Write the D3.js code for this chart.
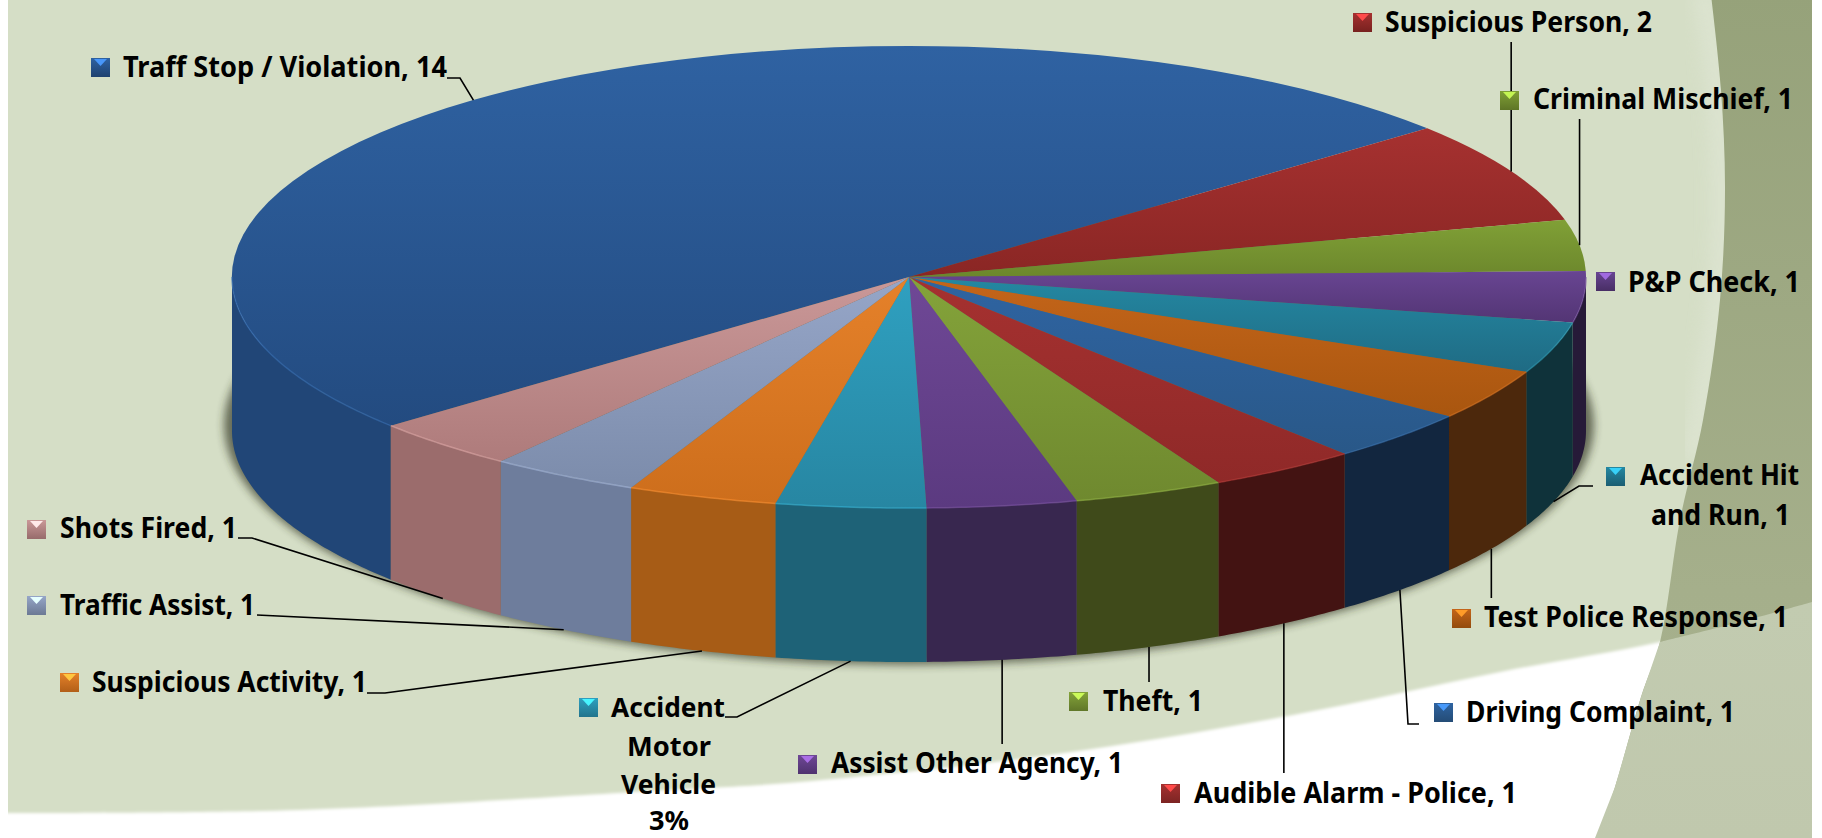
<!DOCTYPE html>
<html>
<head>
<meta charset="utf-8">
<script src="https://cdnjs.cloudflare.com/ajax/libs/d3/7.8.5/d3.min.js"></script>
<style>
html, body { margin: 0; padding: 0; background: #fff; overflow: hidden; }
text { font-family: "Noto Sans", sans-serif; font-weight: 700; fill: #000; }
</style>
</head>
<body>
<div class="chart"></div>
<script>
var categories = ["Traff Stop / Violation", "Suspicious Person", "Criminal Mischief", "P&P Check",
    "Accident Hit and Run", "Test Police Response", "Driving Complaint", "Audible Alarm - Police",
    "Theft", "Assist Other Agency", "Accident Motor Vehicle", "Suspicious Activity",
    "Traffic Assist", "Shots Fired"];
var counts = [14, 2, 1, 1, 1, 1, 1, 1, 1, 1, 1, 1, 1, 1];
var labelLines = [
    ["Traff Stop / Violation, 14"], ["Suspicious Person, 2"], ["Criminal Mischief, 1"], ["P&P Check, 1"],
    ["Accident Hit", "and Run, 1"], ["Test Police Response, 1"], ["Driving Complaint, 1"],
    ["Audible Alarm - Police, 1"], ["Theft, 1"], ["Assist Other Agency, 1"],
    ["Accident", "Motor", "Vehicle", "3%"], ["Suspicious Activity, 1"], ["Traffic Assist, 1"], ["Shots Fired, 1"]
];
var topLight = ["#2f62a2", "#a63130", "#80a036", "#684592", "#2488a2", "#c4651a", "#2f64a2", "#a63130",
    "#84a33a", "#6f4896", "#2fa0c0", "#e5812a", "#96a6c8", "#ca9898"];
var topDark = ["#234b80", "#8a2624", "#6c872c", "#533574", "#1f6b84", "#a9560f", "#295888", "#8f2928",
    "#6f892f", "#5b3a80", "#2786a2", "#cd6e1c", "#7c8cab", "#ae7b7b"];
var wallColors = ["#214677", "#6e1e1c", "#4f6421", "#261a38", "#0f323a", "#4c280c", "#12263f", "#431312",
    "#3f4a1a", "#38274f", "#1e6277", "#a75c16", "#6e7d9c", "#9b6c6c"];

// label placement, same order as categories
var labelLayout = [
    { key: [91, 58], rows: [[123, 447, 77]], leader: [[447, 78], [460, 78]] },
    { key: [1353, 13], rows: [[1385, 1652, 32]], leader: [[null, 42]] },
    { key: [1500, 91], rows: [[1533, 1793, 109]], leader: [[null, 119]] },
    { key: [1596, 272], rows: [[1628, 1800, 292]], leader: null },
    { key: [1606, 467], rows: [[1640, 1799, 485], [1651, 1790, 525]], leader: [[1593, 486], [1579, 486]] },
    { key: [1452, 609], rows: [[1484, 1788, 627]], leader: [[null, 598]] },
    { key: [1434, 703], rows: [[1466, 1735, 722]], leader: [[1419, 724], [1408, 724]] },
    { key: [1161, 784], rows: [[1194, 1517, 803]], leader: [[null, 773]] },
    { key: [1069, 692], rows: [[1103, 1203, 711]], leader: [[null, 682]] },
    { key: [798, 755], rows: [[831, 1123, 773]], leader: [[null, 744]] },
    { key: [579, 698], size: 26, rows: [[611, 725, 717], [627, 711, 756], [621, 716, 794], [649, 689, 830]], leader: [[725, 717], [737, 717]] },
    { key: [60, 673], rows: [[92, 367, 692]], leader: [[367, 693], [385, 693]] },
    { key: [27, 596], rows: [[60, 255, 615]], leader: [[257, 615]] },
    { key: [27, 520], rows: [[60, 237, 538]], leader: [[238, 538], [252, 538]] }
];

var w = 1822;
var h = 838;
var cx = 909;
var cy = 277;
var rx = 677;
var ry = 231;
var depth = 154;
var firstAngle = 229.95 * Math.PI / 180;

var svg = d3.select(".chart").append("svg")
    .attr("width", w)
    .attr("height", h)
    .style("display", "block");
var defs = svg.append("defs");

function vGrad(id, stops) {
    var g = defs.append("linearGradient").attr("id", id)
        .attr("x1", 0).attr("y1", 0).attr("x2", 0).attr("y2", 1);
    stops.forEach(function (s) {
        g.append("stop").attr("offset", s[0]).attr("stop-color", s[1]);
    });
}
function blur(id, dev) {
    defs.append("filter").attr("id", id)
        .attr("x", "-20%").attr("y", "-20%").attr("width", "140%").attr("height", "140%")
        .append("feGaussianBlur").attr("stdDeviation", dev);
}
blur("soft", 1.5);
blur("glow", 9);
blur("shadow", 4);
vGrad("swooshFill", [[0, "#96a27a"], [0.7, "#a5af8b"], [1, "#a8b28f"]]);
vGrad("lowerFill", [[0, "#c2cbb0"], [1, "#c0c8ad"]]);

// background
var curve = d3.line().curve(d3.curveCatmullRom.alpha(0.5));
svg.append("rect").attr("x", 8).attr("y", 0).attr("width", 1804).attr("height", 830).attr("fill", "#d5dec6");
svg.append("path")
    .attr("d", curve([[0, 813], [300, 810], [668, 790], [800, 782], [1050, 755], [1293, 715], [1500, 672], [1660, 642], [1830, 600]]) + "L1830,850L0,850Z")
    .attr("fill", "#fff")
    .attr("filter", "url(#soft)");
svg.append("path")
    .attr("d", curve([[1703, -10], [1713, 50], [1722, 180], [1718, 300], [1692, 460]]))
    .attr("fill", "none")
    .attr("stroke", "#e3e9da")
    .attr("stroke-width", 18)
    .attr("opacity", 0.6)
    .attr("filter", "url(#glow)");
var swooshEdge = [[1711, -5], [1721, 90], [1725, 190], [1720, 300], [1703, 420], [1680, 520], [1660, 642], [1641, 697], [1615, 787], [1595, 845]];
svg.append("path")
    .attr("d", curve(swooshEdge) + "L1812,845L1812,-5Z")
    .attr("fill", "url(#swooshFill)");
svg.append("path")
    .attr("d", curve([[1660, 642], [1740, 622], [1812, 602]]) + "L1812,838L1595,838L1615,787L1641,697Z")
    .attr("fill", "url(#lowerFill)");
svg.append("rect").attr("x", 1812).attr("y", 0).attr("width", 10).attr("height", h).attr("fill", "#fff");

// pie angles
var pie = d3.pie().sort(null)
    .startAngle(firstAngle)
    .endAngle(firstAngle + 2 * Math.PI);
var arcs = pie(counts);

var xRim = d3.scaleLinear().domain([-1, 1]).range([cx - rx, cx + rx]);
var yRim = d3.scaleLinear().domain([-1, 1]).range([cy - ry, cy + ry]);

function rimPoint(a) {
    return [xRim(Math.sin(a)), yRim(-Math.cos(a))];
}

// shadow below the pie
svg.append("ellipse")
    .attr("cx", cx).attr("cy", cy + depth - 6)
    .attr("rx", rx + 8).attr("ry", ry + 9)
    .attr("fill", "#2a2f1c")
    .attr("opacity", 0.65)
    .attr("filter", "url(#shadow)");

// side walls, front half only
var wall = d3.area()
    .x(function (a) { return xRim(Math.sin(a)); })
    .y0(function (a) { return yRim(-Math.cos(a)); })
    .y1(function (a) { return yRim(-Math.cos(a)) + depth; });

function frontAngles(d) {
    var lo = d.startAngle;
    var hi = d.endAngle;
    // slices past a full turn come back to the front half
    if (lo >= 2 * Math.PI) {
        lo -= 2 * Math.PI;
        hi -= 2 * Math.PI;
    }
    var a0 = Math.max(lo, Math.PI / 2);
    var a1 = Math.min(hi, 3 * Math.PI / 2);
    if (a1 <= a0) return null;
    var n = Math.ceil((a1 - a0) / 0.01);
    return d3.range(n + 1).map(function (i) { return a0 + (a1 - a0) * i / n; });
}

svg.append("g").selectAll("path")
    .data(arcs)
    .join("path")
    .attr("d", function (d) {
        var pts = frontAngles(d);
        return pts ? wall(pts) : null;
    })
    .attr("fill", function (d, i) { return wallColors[i]; });

// top face
arcs.forEach(function (d, i) {
    vGrad("top" + i, [[0, topLight[i]], [1, topDark[i]]]);
});
var arc = d3.arc().innerRadius(0).outerRadius(rx);
svg.append("g")
    .attr("transform", "translate(" + cx + "," + cy + ") scale(1," + (ry / rx) + ")")
    .selectAll("path")
    .data(arcs)
    .join("path")
    .attr("d", arc)
    .attr("fill", function (d, i) { return "url(#top" + i + ")"; });

// lighter bevel along the front rim
var rimLine = d3.line()
    .x(function (a) { return xRim(Math.sin(a)); })
    .y(function (a) { return yRim(-Math.cos(a)); });
svg.append("g").selectAll("path")
    .data(arcs)
    .join("path")
    .attr("d", function (d) {
        var pts = frontAngles(d);
        return pts ? rimLine(pts) : null;
    })
    .attr("fill", "none")
    .attr("stroke", function (d, i) { return d3.color(topLight[i]).brighter(0.3); })
    .attr("stroke-width", 1.5)
    .attr("opacity", 0.6);

// leader lines end on the rim at the middle of the slice
var leader = d3.line();
svg.append("g").selectAll("path")
    .data(arcs)
    .join("path")
    .attr("d", function (d, i) {
        if (!labelLayout[i].leader) return null;
        var mid = (d.startAngle + d.endAngle) / 2;
        var end = rimPoint(mid);
        if (Math.cos(mid) < 0) end[1] += depth;
        var pts = labelLayout[i].leader.map(function (p) {
            return [p[0] === null ? end[0] : p[0], p[1]];
        });
        pts.push(end);
        return leader(pts);
    })
    .attr("fill", "none")
    .attr("stroke", "#000")
    .attr("stroke-width", 1.6);

// labels with their keys
var labels = svg.append("g").selectAll("g")
    .data(categories)
    .join("g")
    .attr("class", "label");

categories.forEach(function (c, i) {
    vGrad("key" + i, [[0, topLight[i]], [1, d3.color(topDark[i]).darker(0.4)]]);
});
labels.append("rect")
    .attr("x", function (d, i) { return labelLayout[i].key[0]; })
    .attr("y", function (d, i) { return labelLayout[i].key[1]; })
    .attr("width", 19)
    .attr("height", 19)
    .attr("fill", function (d, i) { return "url(#key" + i + ")"; });
labels.append("path")
    .attr("d", function (d, i) {
        var k = labelLayout[i].key;
        return "M" + (k[0] + 3) + "," + (k[1] + 1) + "h13l-6.5,7z";
    })
    .attr("fill", function (d, i) { return d3.color(topLight[i]).brighter(1.2); });

labels.each(function (d, i) {
    var g = d3.select(this);
    labelLines[i].forEach(function (line, j) {
        var row = labelLayout[i].rows[j];
        g.append("text")
            .attr("x", row[0])
            .attr("y", row[2])
            .attr("font-size", labelLayout[i].size || 28)
            .attr("textLength", row[1] - row[0])
            .attr("lengthAdjust", "spacingAndGlyphs")
            .text(line);
    });
});
</script>
</body>
</html>
